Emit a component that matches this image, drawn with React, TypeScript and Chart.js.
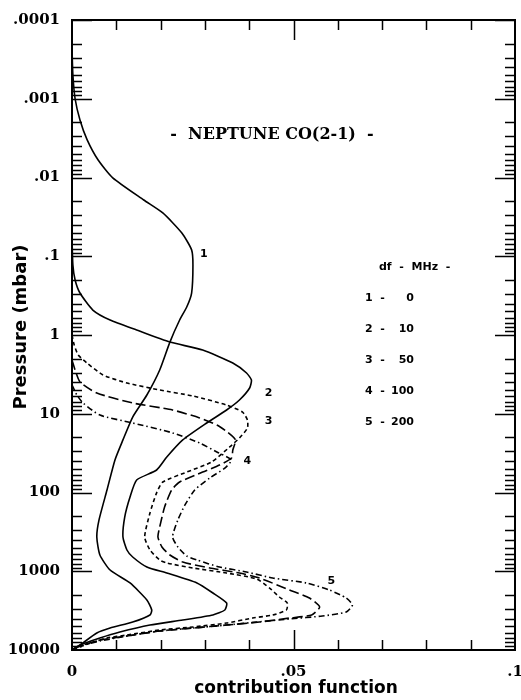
import React, { useEffect, useRef } from "react";
import { Chart, registerables } from "chart.js";

Chart.register(...registerables);

// ---- data ----
const curveNames = ["1", "2", "3", "4", "5"];
const dfMHz = ["0", "10", "50", "100", "200"];
const yTickValues = [1e-4, 1e-3, 0.01, 0.1, 1, 10, 100, 1000, 10000];
const yTickLabels = [".0001", ".001", ".01", ".1", "1", "10", "100", "1000", "10000"];
const xTickValues = [0, 0.05, 0.1];
const xTickLabels = ["0", ".05", ".1"];
const titleText = "-  NEPTUNE CO(2-1)  -";
const xTitle = "contribution function";
const yTitle = "Pressure (mbar)";
const legendTitle = "df  -  MHz  -";

const p1 = [0.00023, 0.0005, 0.001, 0.00186, 0.0033, 0.006, 0.0101, 0.0193, 0.0282, 0.0507, 0.083, 0.129, 0.293, 0.441, 0.645, 1.23, 2.78, 5.78, 11.0, 21.5, 38.6, 93, 223, 367, 622, 964, 1409, 2317, 3105, 3594, 4417, 5260, 6087, 8650, 10000];
const cf1 = [0, 0.0002, 0.0007, 0.0018, 0.0034, 0.0059, 0.0092, 0.0162, 0.0205, 0.0248, 0.027, 0.0273, 0.027, 0.0259, 0.0243, 0.0221, 0.0198, 0.0169, 0.0137, 0.0115, 0.0097, 0.0079, 0.0061, 0.0056, 0.0063, 0.0086, 0.0131, 0.0169, 0.018, 0.0176, 0.0137, 0.0086, 0.0056, 0.0018, 0];

const p2 = [0.06, 0.129, 0.2, 0.293, 0.482, 0.646, 0.865, 1.23, 1.55, 2.27, 3.04, 3.73, 4.71, 6.69, 8.96, 13.1, 21.5, 35.4, 51.8, 69.4, 114, 205, 367, 537, 659, 883, 1053, 1409, 1888, 2531, 3105, 3594, 4162, 4818, 5912, 7043, 8650, 10000];
const cf2 = [0, 0.0002, 0.0007, 0.0018, 0.0047, 0.0086, 0.0146, 0.0221, 0.0295, 0.0363, 0.0394, 0.0405, 0.0401, 0.0378, 0.0349, 0.0304, 0.025, 0.0214, 0.0191, 0.0146, 0.0131, 0.0119, 0.0115, 0.0124, 0.0137, 0.0169, 0.0214, 0.0282, 0.0318, 0.0349, 0.0345, 0.0318, 0.025, 0.0176, 0.0108, 0.0063, 0.0018, 0];

const p3 = [1.0, 1.34, 1.79, 2.27, 3.22, 4.07, 4.99, 5.95, 7.75, 9.51, 12.0, 15.2, 20.3, 26.4, 41.0, 55.0, 73.6, 101, 182, 367, 537, 720, 786, 909, 1053, 1254, 1633, 2124, 2531, 3105, 3594, 3925, 4540, 5105, 5573, 6456, 7043, 8650, 10000];
const cf3 = [0, 0.0005, 0.0014, 0.0034, 0.007, 0.0124, 0.0198, 0.0273, 0.0349, 0.0385, 0.0396, 0.0396, 0.0378, 0.0356, 0.0315, 0.0259, 0.0205, 0.0191, 0.0176, 0.0164, 0.0176, 0.0198, 0.0214, 0.0273, 0.0349, 0.0417, 0.0446, 0.0468, 0.0486, 0.0484, 0.0453, 0.0408, 0.0349, 0.0273, 0.0198, 0.0124, 0.0079, 0.0029, 0];

const p4 = [2.08, 2.78, 3.95, 5.45, 7.3, 8.96, 11.3, 13.9, 17.1, 21.5, 28.9, 36.5, 44.8, 55.0, 73.6, 93, 153, 274, 367, 492, 622, 764, 909, 1053, 1219, 1730, 2188, 2845, 3594, 3925, 4417, 4818, 5260, 5741, 6645, 7470, 8890, 10000];
const cf4 = [0, 0.0007, 0.0018, 0.0056, 0.0137, 0.0227, 0.0288, 0.0327, 0.0351, 0.0369, 0.0363, 0.036, 0.0333, 0.0295, 0.0243, 0.0225, 0.0209, 0.0198, 0.0194, 0.0203, 0.0221, 0.025, 0.0311, 0.0378, 0.0423, 0.0491, 0.0536, 0.0559, 0.0541, 0.0491, 0.0423, 0.0349, 0.0273, 0.0198, 0.0124, 0.0063, 0.0018, 0];

const p5 = [4.3, 5.78, 7.3, 10.4, 13.1, 17.5, 23.5, 30.6, 38.6, 48.9, 65.4, 93, 144, 223, 367, 492, 640, 720, 883, 1023, 1219, 1409, 1730, 2188, 2685, 3296, 3700, 4036, 4417, 4818, 5260, 5741, 6645, 7691, 8890, 10000];
const cf5 = [0, 0.0011, 0.0025, 0.0063, 0.0137, 0.0227, 0.0288, 0.0327, 0.036, 0.0345, 0.0311, 0.0277, 0.0255, 0.0239, 0.0227, 0.0239, 0.0259, 0.0282, 0.0333, 0.0394, 0.0453, 0.0529, 0.0581, 0.0619, 0.0633, 0.0619, 0.0565, 0.0491, 0.0417, 0.0349, 0.0273, 0.0198, 0.0124, 0.0063, 0.0018, 0];

// curve label anchor values (data space)
const labelCf = [0.0289, 0.0435, 0.0435, 0.0387, 0.0577];
const labelP = [0.095, 5.45, 12.4, 40, 1330];

const seriesP = [p1, p2, p3, p4, p5];
const seriesCf = [cf1, cf2, cf3, cf4, cf5];
const dashes: number[][] = [[], [], [4, 3], [10, 4], [6, 3, 1.5, 3]];

const toPoints = (cf: number[], p: number[]) => cf.map((v, i) => ({ x: v, y: p[i] }));

const decorPlugin = {
  id: "decor",
  afterDraw(chart: any) {
    const { ctx, chartArea, scales } = chart;
    const { left, right, top, bottom } = chartArea;
    const x = scales.x;
    const y = scales.y;
    ctx.save();
    ctx.strokeStyle = "#000";
    ctx.fillStyle = "#000";
    ctx.lineWidth = 1.5;
    ctx.setLineDash([]);
    ctx.beginPath();
    for (let i = 1; i < 10; i++) {
      const px = Math.round(x.getPixelForValue(i * 0.01)) + 0.5;
      const len = i === 5 ? 20 : 10;
      ctx.moveTo(px, bottom);
      ctx.lineTo(px, bottom - len);
      ctx.moveTo(px, top);
      ctx.lineTo(px, top + len);
    }
    for (let d = -4; d < 4; d++) {
      for (let m = 1; m < 10; m++) {
        const v = m * Math.pow(10, d);
        const py = Math.round(y.getPixelForValue(v)) + 0.5;
        const len = m === 1 ? 20 : 10;
        ctx.moveTo(left, py);
        ctx.lineTo(left + len, py);
        ctx.moveTo(right, py);
        ctx.lineTo(right - len, py);
      }
    }
    ctx.stroke();
    ctx.lineWidth = 2;
    ctx.strokeRect(left, top, right - left, bottom - top);

    ctx.textBaseline = "middle";
    ctx.textAlign = "center";
    ctx.font = "bold 16px 'DejaVu Serif'";
    ctx.fillText(titleText, 272, 135);

    ctx.font = "bold 17px 'DejaVu Sans'";
    ctx.fillText(xTitle, 296, 689);
    ctx.save();
    ctx.translate(21, 327);
    ctx.rotate(-Math.PI / 2);
    ctx.font = "bold 18px 'DejaVu Sans'";
    ctx.fillText(yTitle, 0, 0);
    ctx.restore();

    ctx.font = "bold 11px 'DejaVu Sans'";
    ctx.textAlign = "left";
    curveNames.forEach((n, i) => {
      ctx.fillText(n, x.getPixelForValue(labelCf[i]), y.getPixelForValue(labelP[i]));
    });

    ctx.fillText(legendTitle, 379, 267);
    dfMHz.forEach((v, i) => {
      const yy = 298 + i * 31;
      ctx.textAlign = "left";
      ctx.fillText(curveNames[i] + "  -", 365, yy);
      ctx.textAlign = "right";
      ctx.fillText(v, 414, yy);
    });
    ctx.restore();
  },
};

export default function App() {
  const ref = useRef<HTMLCanvasElement | null>(null);
  useEffect(() => {
    if (!ref.current) return;
    const chart = new Chart(ref.current, {
      type: "scatter",
      data: {
        datasets: seriesCf.map((cf, i) => ({
          label: curveNames[i],
          data: toPoints(cf, seriesP[i]),
          showLine: true,
          borderColor: "#000",
          backgroundColor: "#000",
          borderWidth: 1.6,
          borderDash: dashes[i],
          pointRadius: 0,
          tension: 0.2,
          fill: false,
        })),
      },
      options: {
        responsive: false,
        animation: false,
        devicePixelRatio: 1,
        layout: { padding: { left: 0, right: 6, top: 20, bottom: 0 } },
        plugins: { legend: { display: false }, tooltip: { enabled: false }, title: { display: false } },
        scales: {
          x: {
            type: "linear",
            min: 0,
            max: 0.1,
            afterFit: (s: any) => { s.height = 50; s.paddingLeft = 0; s.paddingRight = 0; },
            afterBuildTicks: (s: any) => { s.ticks = xTickValues.map((v) => ({ value: v })); },
            grid: { display: false, drawTicks: false },
            border: { display: false },
            ticks: {
              autoSkip: false,
              maxRotation: 0,
              padding: 13,
              color: "#000",
              font: { family: "'DejaVu Serif'", weight: "bold", size: 15 },
              callback: (v: any) => {
                const i = xTickValues.findIndex((t) => Math.abs(t - v) < 1e-9);
                return i >= 0 ? xTickLabels[i] : "";
              },
            },
          },
          y: {
            type: "logarithmic",
            reverse: true,
            min: 1e-4,
            max: 1e4,
            afterFit: (s: any) => { s.width = 72; s.paddingTop = 0; s.paddingBottom = 0; },
            afterBuildTicks: (s: any) => { s.ticks = yTickValues.map((v) => ({ value: v, major: true })); },
            grid: { display: false, drawTicks: false },
            border: { display: false },
            ticks: {
              autoSkip: false,
              padding: 12,
              color: "#000",
              font: { family: "'DejaVu Serif'", weight: "bold", size: 15 },
              callback: (v: any) => {
                const i = yTickValues.findIndex((t) => Math.abs(Math.log10(t) - Math.log10(v)) < 1e-6);
                return i >= 0 ? yTickLabels[i] : "";
              },
            },
          },
        },
      },
      plugins: [decorPlugin],
    } as any);
    return () => chart.destroy();
  }, []);
  return (
    <div style={{ position: "absolute", left: 0, top: 0, width: 521, height: 700, background: "#fff" }}>
      <canvas ref={ref} width={521} height={700} style={{ width: 521, height: 700, display: "block" }} />
    </div>
  );
}
